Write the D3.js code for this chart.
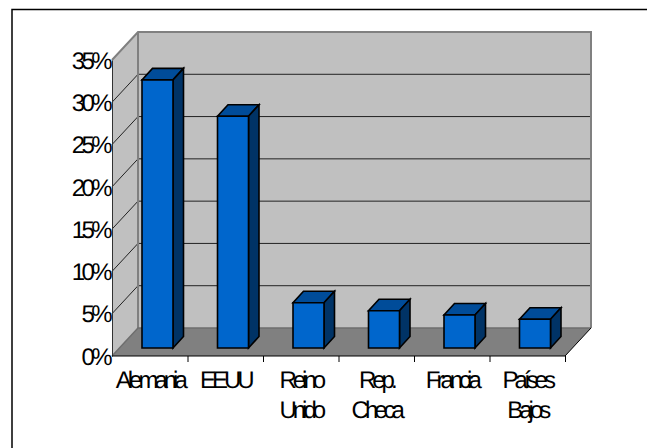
<!DOCTYPE html>
<html>
<head>
	<meta charset="utf-8">
	<title></title>
	<script src="https://cdnjs.cloudflare.com/ajax/libs/d3/7.8.5/d3.min.js"></script>
	<style>
		html, body { margin: 0; padding: 0; background: #fff; overflow: hidden; }
		svg { display: block; }
		text { font-family: "Liberation Sans", Arial, sans-serif; font-size: 24px; fill: #000; letter-spacing: -4px; text-rendering: geometricPrecision; }
		.yaxis text { letter-spacing: -3.6px; }
	</style>
</head>
<body>
	<div id="chart"></div>
	<script>
		var categories = [['Alemania'], ['EEUU'], ['Reino', 'Unido'], ['Rep.', 'Checa'], ['Francia'], ['Países', 'Bajos']];
		var values = [31.7, 27.4, 5.35, 4.4, 3.9, 3.4];
		var ticks = [0, 5, 10, 15, 20, 25, 30, 35];

		var width = 647, height = 448;
		var left = 112, right = 565, bottom = 356, top_ = 60;
		var depthX = 26, depthY = 28;          // wall depth
		var barOffset = 30, barW = 31, barLift = 8, barDX = 10.5, barDY = 11.5;

		var svg = d3.select('#chart').append('svg')
			.attr('width', width)
			.attr('height', height);

		// chart frame runs off the right and bottom of the page
		svg.append('rect')
			.attr('x', 12).attr('y', 9.5)
			.attr('width', 660).attr('height', 460)
			.attr('fill', '#fff').attr('stroke', '#000').attr('stroke-width', 1.5);

		var x = d3.scaleBand().domain(d3.range(categories.length)).range([left, right]);
		var y = d3.scaleLinear().domain([0, 35]).range([bottom, top_]);

		function poly(pts, fill, stroke, sw) {
			return svg.append('polygon')
				.attr('points', pts.map(function(p) { return p.join(','); }).join(' '))
				.attr('fill', fill)
				.attr('stroke', stroke || 'none')
				.attr('stroke-width', sw || 0)
				.attr('stroke-linejoin', 'miter');
		}

		// walls and floor
		poly([[left, y(35)], [left + depthX, y(35) - depthY], [left + depthX, bottom - depthY], [left, bottom]], '#c0c0c0');
		poly([[left + depthX, y(35) - depthY], [right + depthX, y(35) - depthY], [right + depthX, bottom - depthY], [left + depthX, bottom - depthY]], '#c0c0c0');
		poly([[left, bottom], [left + depthX, bottom - depthY], [right + depthX, bottom - depthY], [right, bottom]], '#808080');

		// gridlines
		ticks.slice(1).forEach(function(t) {
			svg.append('polyline')
				.attr('points', [[left, y(t)], [left + depthX, y(t) - depthY], [right + depthX, y(t) - depthY]].join(' '))
				.attr('fill', 'none')
				.attr('stroke', t == 35 ? '#808080' : '#222')
				.attr('stroke-width', 1);
		});

		// wall edges
		svg.append('path')
			.attr('d', 'M' + left + ',' + y(35) + 'L' + (left + depthX) + ',' + (y(35) - depthY) + 'H' + (right + depthX) + 'V' + (bottom - depthY) + 'M' + (left + depthX) + ',' + (y(35) - depthY) + 'V' + (bottom - depthY))
			.attr('fill', 'none').attr('stroke', '#808080').attr('stroke-width', 2);
		svg.append('path')
			.attr('d', 'M' + left + ',' + bottom + 'L' + (left + depthX) + ',' + (bottom - depthY) + 'H' + (right + depthX))
			.attr('fill', 'none').attr('stroke', '#6e6e6e').attr('stroke-width', 1.5);
		svg.append('path')
			.attr('d', 'M' + right + ',' + bottom + 'L' + (right + depthX) + ',' + (bottom - depthY))
			.attr('fill', 'none').attr('stroke', '#000').attr('stroke-width', 1);

		// bars
		values.forEach(function(v, i) {
			var x0 = x(i) + barOffset, x1 = x0 + barW;
			var yb = bottom - barLift;
			var yt = yb - (y(0) - y(v));
			poly([[x0, yt], [x1, yt], [x1 + barDX, yt - barDY], [x0 + barDX, yt - barDY]], '#004c99', '#000', 1.6);
			poly([[x1, yt], [x1 + barDX, yt - barDY], [x1 + barDX, yb - barDY], [x1, yb]], '#003366', '#000', 1.6);
			poly([[x0, yt], [x1, yt], [x1, yb], [x0, yb]], '#0066cc', '#000', 1.6);
		});

		// axes
		var yAxis = d3.axisLeft(y).tickValues(ticks).tickSize(0).tickPadding(3)
			.tickFormat(function(d) { return d + '%'; });
		var yG = svg.append('g').attr('class', 'yaxis').attr('transform', 'translate(' + left + ',0)').call(yAxis);
		yG.select('.domain').attr('stroke', '#333').attr('stroke-width', 1);
		yG.selectAll('text').attr('dy', '0.34em').style('font-size', '24px').style('font-family', null);

		var xAxis = d3.axisBottom(d3.scaleLinear().domain([0, 6]).range([left, right]))
			.tickValues(d3.range(1, 7)).tickSize(6).tickFormat('');
		var xG = svg.append('g').attr('transform', 'translate(0,' + bottom + ')').call(xAxis);
		xG.select('.domain').attr('d', 'M' + left + ',0H' + right).attr('stroke', '#000');
		xG.selectAll('line').attr('stroke', '#000');

		categories.forEach(function(lines, i) {
			var t = svg.append('text')
				.attr('text-anchor', 'middle');
			lines.forEach(function(s, j) {
				t.append('tspan')
					.attr('x', x(i) + x.bandwidth() / 2)
					.attr('y', 388 + j * 29.5)
					.text(s);
			});
		});
	</script>
</body>
</html>
